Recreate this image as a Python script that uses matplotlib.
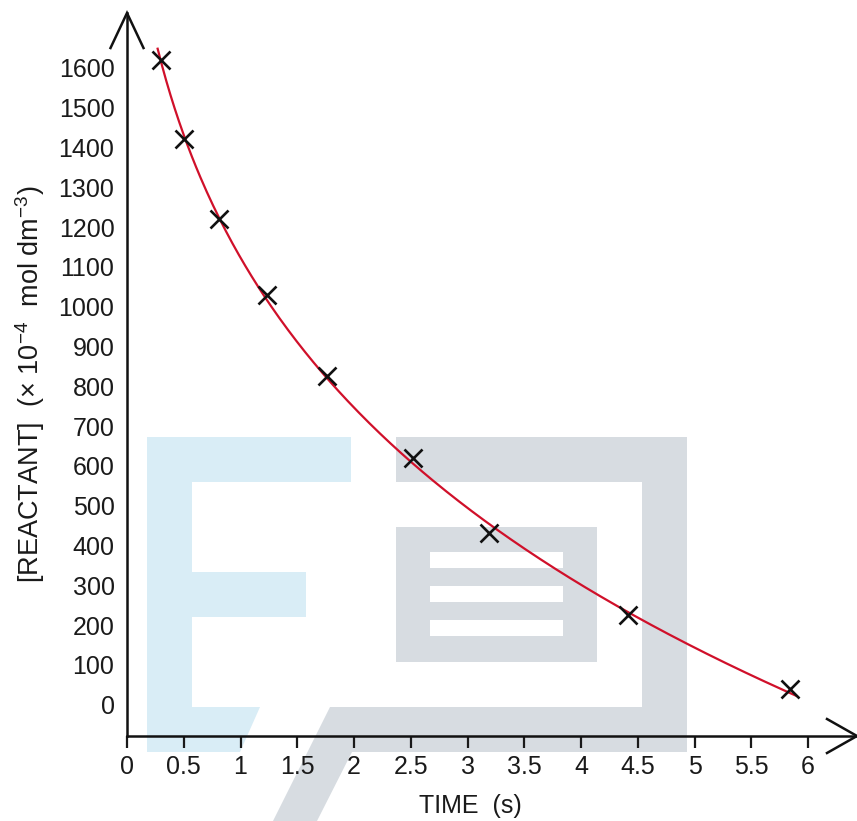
import numpy as np
import matplotlib
matplotlib.use("Agg")
import matplotlib.pyplot as plt
from matplotlib.patches import Polygon, Rectangle
from matplotlib.transforms import Affine2D

# data
time_s = [0.30, 0.50, 0.81, 1.23, 1.76, 2.52, 3.19, 4.41, 5.84]
reactant = [1620, 1420, 1220, 1030, 825, 620, 430, 225, 40]
curve_range = (0.27, 5.90)

x_ticks = [0, 0.5, 1, 1.5, 2, 2.5, 3, 3.5, 4, 4.5, 5, 5.5, 6]
x_labels = ["0", "0.5", "1", "1.5", "2", "2.5", "3", "3.5", "4", "4.5", "5", "5.5", "6"]
y_ticks = list(range(0, 1700, 100))

W, H = 857, 821
plt.rcParams["font.family"] = ["Liberation Sans", "DejaVu Sans"]
plt.rcParams["mathtext.default"] = "regular"

fig = plt.figure(figsize=(W / 100, H / 100), dpi=100)
px = Affine2D().scale(1 / W, -1 / H).translate(0, 1) + fig.transFigure

# watermark logo (pixel coords, y down)
blue = "#d9edf6"
grey = "#d7dce1"
fig.patches.append(Polygon([(147, 437), (351, 437), (351, 482), (192, 482), (192, 572), (306, 572),
                            (306, 617), (192, 617), (192, 707), (260, 707), (240, 752), (147, 752)],
                           closed=True, fc=blue, ec="none", transform=px, zorder=-2))
fig.patches.append(Rectangle((396, 437), 291, 45, fc=grey, ec="none", transform=px, zorder=-2))
fig.patches.append(Rectangle((642, 437), 45, 315, fc=grey, ec="none", transform=px, zorder=-2))
fig.patches.append(Polygon([(330, 707), (687, 707), (687, 752), (352, 752), (317, 821), (273, 821)],
                           closed=True, fc=grey, ec="none", transform=px, zorder=-2))
fig.patches.append(Rectangle((396, 527), 201, 135, fc=grey, ec="none", transform=px, zorder=-2))
for top in (552, 586, 620):
    fig.patches.append(Rectangle((430, top), 133, 16.5, fc="white", ec="none", transform=px, zorder=-1))

ax = fig.add_axes([127 / W, (H - 736) / H, (W - 127) / W, (736 - 13) / H])
ax.patch.set_visible(False)
ax.set_xlim(0, 730 / 113.5)
ax.set_ylim(-(736 - 704.6) / 0.398, (704.6 - 13) / 0.398)

# smooth trend line: quadratic in ln(t), fitted to the points
coef = np.polyfit(np.log(time_s), reactant, 2)
tt = np.linspace(curve_range[0], curve_range[1], 300)
ax.plot(tt, np.polyval(coef, np.log(tt)), color="#d0102a", lw=1.6, zorder=3)
ax.plot(time_s, reactant, ls="none", marker="x", ms=13, mew=1.9, color="#111111", zorder=4)

for s in ["top", "right"]:
    ax.spines[s].set_visible(False)
for s in ["left", "bottom"]:
    ax.spines[s].set_linewidth(1.8)
    ax.spines[s].set_color("#111111")

ax.set_xticks(x_ticks)
ax.set_xticklabels(x_labels)
ax.set_yticks(y_ticks)
ax.tick_params(axis="x", direction="out", length=8.6, width=1.6, pad=5, labelsize=18, colors="#1a1a1a")
ax.tick_params(axis="y", length=0, pad=9, labelsize=18, colors="#1a1a1a")

# arrow heads
aw, ah = 730, 723
ax.plot([-16.5 / aw, 0, 16.5 / aw], [1 - 35 / ah, 1, 1 - 35 / ah], transform=ax.transAxes,
        color="#111111", lw=1.8, clip_on=False, solid_joinstyle="miter")
ax.plot([1 - 30 / aw, 1, 1 - 30 / aw], [17 / ah, 0, -17 / ah], transform=ax.transAxes,
        color="#111111", lw=1.8, clip_on=False, solid_joinstyle="miter")

fig.text(470 / W, 1 - 806 / H, "TIME  (s)", ha="center", va="center", fontsize=18, color="#1a1a1a")
fig.text(30 / W, 1 - 384 / H, "[REACTANT]  (× 10$^{-4}$  mol dm$^{-3}$)", rotation=90,
         ha="center", va="center", fontsize=19.5, color="#1a1a1a")

fig.savefig("out.png", dpi=100)
